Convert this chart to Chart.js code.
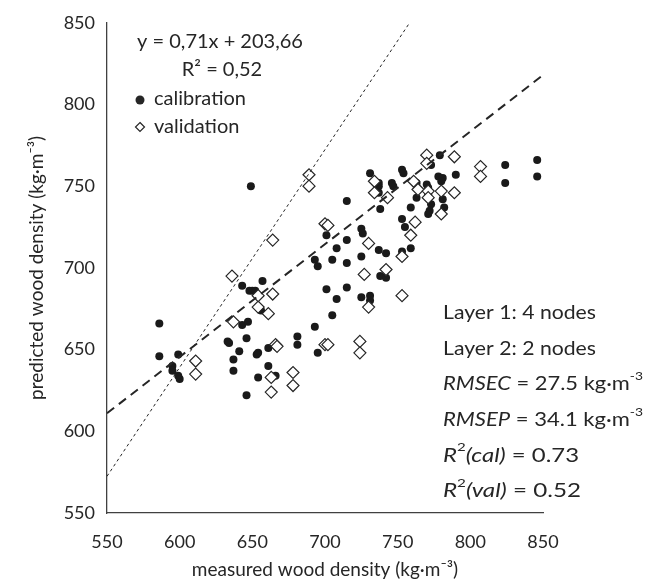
<!DOCTYPE html>
<html>
<head>
<meta charset="utf-8">
<script src="https://cdn.jsdelivr.net/npm/chart.js@4"></script>
<style>
  html, body { margin: 0; padding: 0; background: #fff; }
  #wrap { width: 658px; height: 585px; }
</style>
</head>
<body>
<div id="wrap"><canvas id="densityChart" width="658" height="585"></canvas></div>
<script>
// measured vs predicted wood density (kg/m3)
const calMeasured = [586, 586, 599, 595, 595, 599, 600, 643, 647, 633, 634, 646, 641, 637, 637, 643, 648, 656, 653, 654, 661, 661, 654, 666, 646,
  649, 657, 650, 652, 693, 681, 681, 695, 705, 708, 715, 701, 731, 737, 737, 737, 738, 746, 747, 753, 754, 763, 763, 759,
  773, 779, 789, 790, 778, 781, 780, 770, 771, 771, 773, 772, 771, 781, 782, 753, 755, 725, 726, 715, 708, 737, 742, 753, 759,
  725, 693, 695, 705, 715, 738, 742, 701, 715, 725, 731, 731, 824, 824, 846, 846];
const calPredicted = [666, 646, 647, 640, 637, 634, 632, 665, 667, 655, 654, 657, 649, 644, 637, 689, 686, 674, 647, 648, 651, 640, 633, 634, 622,
  750, 692, 686, 686, 664, 658, 653, 648, 671, 681, 741, 720, 758, 752, 750, 746, 736, 752, 750, 760, 758, 752, 743, 737,
  763, 769, 768, 757, 756, 755, 753, 751, 749, 745, 739, 735, 733, 742, 737, 730, 725, 724, 721, 717, 712, 711, 709, 710, 712,
  707, 705, 701, 705, 703, 695, 694, 687, 688, 682, 683, 680, 763, 752, 766, 756];
const valMeasured = [611, 611, 636, 637, 654, 661, 654, 664, 666, 667, 663, 663, 678, 678, 700, 702, 724, 724, 689, 689, 700, 702, 664,
  734, 734, 743, 761, 764, 770, 770, 789, 771, 780, 789, 771, 780, 762, 759, 730, 753, 742, 727, 730, 753, 807, 807];
const valPredicted = [643, 635, 695, 667, 676, 672, 683, 684, 653, 652, 633, 624, 636, 628, 653, 653, 655, 648, 757, 750, 727, 726, 717,
  753, 746, 743, 753, 748, 769, 764, 768, 747, 747, 746, 743, 733, 728, 720, 715, 707, 699, 696, 676, 683, 762, 756];

const axisRange = [550, 850];
const axisStep = 50;
// dashed trend line and dotted guide line as they are drawn in the figure
const trendSlope = 0.69;
const trendIntercept = 231.5;
const guideSlope = 1.333;
const guideIntercept = -160.7;

const textColor = "#262626";
const fontFamily = "Lato, 'Open Sans', sans-serif";

const toPoints = (xs, ys) => xs.map((x, i) => ({ x: x, y: ys[i] }));
const trendLine = axisRange.map((x) => ({ x: x, y: trendSlope * x + trendIntercept }));
const guideEnd = (axisRange[1] - guideIntercept) / guideSlope;
const guideLine = [axisRange[0], guideEnd].map((x) => ({ x: x, y: guideSlope * x + guideIntercept }));

// draw a run of text parts, stretched to a given width
function drawRow(ctx, parts, x, y, size, width) {
  let natural = 0;
  parts.forEach(([txt, kind]) => {
    ctx.font = fontFor(kind, size);
    natural += ctx.measureText(txt).width;
  });
  const sx = width ? width / natural : 1;
  ctx.save();
  ctx.translate(x, y);
  ctx.scale(sx, 1);
  let cx = 0;
  parts.forEach(([txt, kind]) => {
    ctx.font = fontFor(kind, size);
    ctx.fillText(txt, cx, kind === "sup" ? -size * 0.42 : 0);
    cx += ctx.measureText(txt).width;
  });
  ctx.restore();
}
function fontFor(kind, size) {
  if (kind === "sup") return Math.round(size * 0.62) + "px " + fontFamily;
  return (kind === "i" ? "italic " : "") + size + "px " + fontFamily;
}

// text inside the plot, drawn after the datasets
const notesPlugin = {
  id: "notes",
  afterDatasetsDraw(chart) {
    const ctx = chart.ctx;
    const area = chart.chartArea;
    ctx.save();
    ctx.fillStyle = textColor;
    ctx.textBaseline = "middle";
    ctx.font = "20px " + fontFamily;
    ctx.textAlign = "center";
    ctx.fillText("y = 0,71x + 203,66", area.left + 113, 42);
    ctx.fillText("R² = 0,52", area.left + 115, 70);
    ctx.textAlign = "left";
    ctx.fillText("calibration", area.left + 47, 99);
    ctx.fillText("validation", area.left + 47, 127);
    // legend markers
    ctx.beginPath();
    ctx.arc(area.left + 33, 100, 4.5, 0, Math.PI * 2);
    ctx.fill();
    ctx.strokeStyle = textColor;
    ctx.lineWidth = 1.2;
    ctx.beginPath();
    ctx.moveTo(area.left + 33, 122.5);
    ctx.lineTo(area.left + 37.5, 127);
    ctx.lineTo(area.left + 33, 131.5);
    ctx.lineTo(area.left + 28.5, 127);
    ctx.closePath();
    ctx.stroke();

    // model summary
    const x0 = 443;
    const rows = [
      [[["Layer 1: 4 nodes", ""]], 153],
      [[["Layer 2: 2 nodes", ""]], 153],
      [[["RMSEC", "i"], [" = 27.5 kg·m", ""], ["-3", "sup"]], 200],
      [[["RMSEP", "i"], [" = 34.1 kg·m", ""], ["-3", "sup"]], 200],
      [[["R", "i"], ["2", "sup"], ["(cal)", "i"], [" = 0.73", ""]], 136],
      [[["R", "i"], ["2", "sup"], ["(val)", "i"], [" = 0.52", ""]], 138],
    ];
    rows.forEach(([parts, w], r) => {
      drawRow(ctx, parts, x0, 313 + r * 35.6, 19, w);
    });
    ctx.restore();
  },
};

new Chart(document.getElementById("densityChart").getContext("2d"), {
  type: "scatter",
  data: {
    datasets: [
      {
        label: "guide",
        type: "line",
        data: guideLine,
        borderColor: "#262626",
        borderWidth: 1,
        borderDash: [3, 3],
        pointRadius: 0,
        fill: false,
      },
      {
        label: "trend",
        type: "line",
        data: trendLine,
        borderColor: "#262626",
        borderWidth: 2,
        borderDash: [9, 6],
        pointRadius: 0,
        fill: false,
      },
      {
        label: "validation",
        data: toPoints(valMeasured, valPredicted),
        pointStyle: "rectRot",
        pointRadius: 6,
        pointBackgroundColor: "#ffffff",
        pointBorderColor: "#262626",
        pointBorderWidth: 1.2,
      },
      {
        label: "calibration",
        data: toPoints(calMeasured, calPredicted),
        pointStyle: "circle",
        pointRadius: 4,
        pointBackgroundColor: "#1a1a1a",
        pointBorderColor: "#1a1a1a",
        pointBorderWidth: 0,
      },
    ],
  },
  options: {
    responsive: false,
    animation: false,
    layout: { padding: { left: 0, top: 17, right: 115, bottom: 0 } },
    plugins: { legend: { display: false }, tooltip: { enabled: false } },
    scales: {
      x: {
        type: "linear",
        min: axisRange[0],
        max: axisRange[1],
        ticks: { stepSize: axisStep, color: textColor, padding: 18, font: { family: fontFamily, size: 18 } },
        grid: { display: false, drawTicks: false },
        border: { display: true, color: "#404040", width: 1.3 },
        title: {
          display: true,
          text: "measured wood density (kg·m⁻³)",
          color: textColor,
          font: { family: fontFamily, size: 19 },
          padding: { top: 0, bottom: 4 },
        },
        afterFit: (scale) => { scale.height = 72; },
      },
      y: {
        type: "linear",
        min: axisRange[0],
        max: axisRange[1],
        ticks: { stepSize: axisStep, color: textColor, padding: 12, font: { family: fontFamily, size: 18 } },
        grid: { display: false, drawTicks: false },
        border: { display: true, color: "#404040", width: 1.3 },
        title: {
          display: true,
          text: "predicted wood density (kg·m⁻³)",
          color: textColor,
          font: { family: fontFamily, size: 19 },
          padding: { top: 25, bottom: 0 },
        },
        afterFit: (scale) => { scale.width = 107; },
      },
    },
  },
  plugins: [notesPlugin],
});
</script>
</body>
</html>
